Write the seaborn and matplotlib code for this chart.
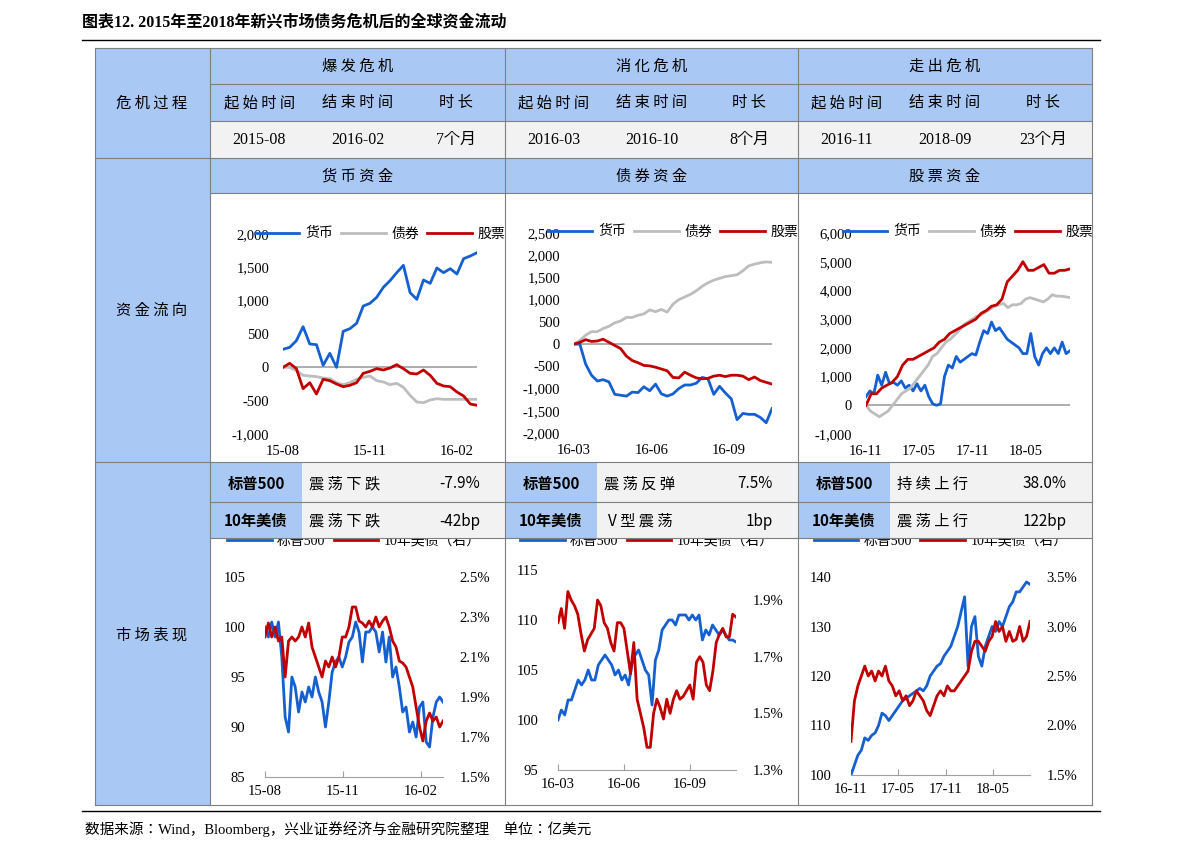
import numpy as np
import pandas as pd
import matplotlib.pyplot as plt
from matplotlib.patches import Rectangle
from matplotlib.lines import Line2D
import seaborn as sns

W, H = 1191, 856
CJK = ['Noto Sans CJK JP', 'Noto Sans CJK SC', 'DejaVu Sans']
SERIF = ['Liberation Serif', 'Noto Sans CJK JP', 'Noto Sans CJK SC']
BLUE, GRAY, RED = '#1560d0', '#bdbdbd', '#c00000'
HEAD = '#a9c8f3'
LIGHT = '#f2f2f2'

# ---- fund flow data (亿美元, cumulative) ----
f1_money = [270, 300, 400, 610, 350, 340, 30, 210, 0, 540, 580, 660, 920, 960, 1050,
            1200, 1300, 1420, 1530, 1120, 1020, 1310, 1260, 1490, 1420, 1480, 1400, 1630, 1670, 1720]
f1_bond = [0, 0, -50, -120, -130, -140, -160, -170, -230, -260, -230, -180, -150, -130, -200,
           -220, -260, -240, -300, -420, -520, -530, -490, -470, -480, -480, -480, -480, -480, -480]
f1_stock = [0, 60, -20, -320, -230, -400, -180, -200, -250, -290, -270, -230, -90, -60, -20,
            -40, -10, 40, -20, -90, -100, -40, -120, -240, -280, -290, -370, -430, -550, -570]

f2_money = [0, 0, -450, -700, -830, -800, -850, -1130, -1150, -1170, -1080, -1090, -960, -1050, -900,
            -1120, -1170, -1120, -1000, -920, -920, -880, -750, -780, -1130, -950, -1100, -1230,
            -1700, -1560, -1580, -1580, -1650, -1770, -1450]
f2_bond = [0, 80, 200, 280, 280, 350, 400, 480, 520, 600, 600, 650, 680, 770, 730, 780, 720, 900,
           1000, 1060, 1120, 1200, 1300, 1380, 1440, 1480, 1520, 1540, 1560, 1650, 1760, 1800, 1830, 1850, 1840]
f2_stock = [0, 40, 100, 60, 70, 110, 40, -30, -100, -270, -370, -420, -480, -490, -520, -560, -600,
            -750, -760, -630, -700, -760, -780, -770, -720, -700, -730, -700, -700, -720, -800, -740,
            -820, -860, -900]

f3_money = [300, 500, 400, 1050, 700, 1150, 750, 800, 700, 850, 600, 700, 500, 750, 500, 700, 300, 50,
            0, 50, 1000, 1400, 1300, 1700, 1500, 1600, 1700, 1800, 1750, 2200, 2600, 2500, 2900, 2600,
            2700, 2500, 2300, 2200, 2100, 2000, 1800, 1800, 2500, 1700, 1400, 1800, 2000, 1800, 2000,
            1800, 2200, 1800, 1900]
f3_bond = [0, -200, -300, -400, -300, -200, 0, 200, 400, 500, 600, 800, 1000, 1200, 1400, 1700, 1800,
           2000, 2200, 2300, 2450, 2600, 2800, 2900, 3000, 3100, 3150, 3250, 3350, 3450, 3500, 3550,
           3400, 3500, 3500, 3550, 3700, 3750, 3700, 3650, 3600, 3700, 3850, 3800, 3800, 3780, 3750]
f3_stock = [0, 400, 400, 600, 700, 800, 1000, 1400, 1600, 1600, 1700, 1800, 1900, 2000, 2200, 2300,
            2500, 2600, 2700, 2800, 2900, 3000, 3200, 3300, 3450, 3500, 3700, 4300, 4500, 4700, 5000,
            4700, 4700, 4800, 4900, 4600, 4600, 4700, 4700, 4750]

# ---- market data: S&P500 (rebased) and 10Y UST yield (%) ----
m1_spx = [100, 99, 100.5, 99, 100.5, 97, 91, 89.5, 95, 94, 91.5, 93.5, 92.5, 94, 93, 95, 93.5, 92.5,
          90, 92.5, 95.5, 96.5, 97, 96, 97, 98.5, 99, 100.5, 99.5, 96.5, 99.5, 99.5, 100, 99.5, 97.5,
          99.5, 96.5, 99, 95, 96, 94, 91.5, 92, 89.5, 90.5, 89, 92, 92.5, 88.5, 88, 91, 92.5, 93, 92.5]
m1_ust = [2.2, 2.27, 2.2, 2.25, 2.18, 2.2, 2.0, 2.18, 2.2, 2.18, 2.2, 2.25, 2.2, 2.27, 2.15, 2.1, 2.05,
          2.0, 2.08, 2.05, 2.1, 2.05, 2.1, 2.2, 2.2, 2.25, 2.35, 2.35, 2.28, 2.27, 2.25, 2.28, 2.25, 2.3,
          2.25, 2.28, 2.3, 2.25, 2.18, 2.15, 2.08, 2.07, 2.05, 2.0, 1.95, 1.85, 1.75, 1.68, 1.78, 1.82,
          1.78, 1.8, 1.75, 1.78]

m2_spx = [100, 101, 100.5, 102, 102, 103, 104, 103.5, 104, 105, 104, 104, 105.5, 106, 106.5, 106, 105.5,
          104.5, 105, 104, 104.5, 103.5, 105.5, 106.5, 107, 106, 105, 104.5, 101.5, 106, 107, 109, 109.5,
          110, 110, 109.5, 110.5, 110.5, 110.5, 110, 110.5, 110, 110.5, 108, 109, 108.5, 109.5, 109,
          108.5, 109, 108.5, 108, 108, 107.8]
m2_ust = [1.82, 1.87, 1.8, 1.93, 1.9, 1.88, 1.85, 1.78, 1.72, 1.76, 1.78, 1.8, 1.9, 1.88, 1.82, 1.8, 1.75,
          1.72, 1.82, 1.82, 1.8, 1.72, 1.64, 1.75, 1.55, 1.5, 1.45, 1.38, 1.38, 1.5, 1.55, 1.52, 1.48,
          1.55, 1.5, 1.55, 1.58, 1.55, 1.56, 1.58, 1.6, 1.55, 1.68, 1.7, 1.68, 1.6, 1.58, 1.65, 1.75,
          1.78, 1.8, 1.77, 1.77, 1.85, 1.84]

m3_spx = [100, 102, 104, 105, 107.5, 107, 108, 108.5, 110, 112.5, 112, 111, 112, 113, 114, 115, 115.5,
          116, 116.5, 117, 117.5, 117, 118, 120, 121, 122, 122.5, 124, 125, 126, 128, 130, 133, 136, 122,
          130, 132, 124, 122, 126, 128, 130, 129, 131, 130, 132, 134, 135, 137, 137, 138, 139, 138.5]
m3_ust = [1.84, 2.25, 2.4, 2.5, 2.6, 2.5, 2.55, 2.45, 2.55, 2.5, 2.6, 2.45, 2.4, 2.3, 2.35, 2.25, 2.3,
          2.2, 2.25, 2.35, 2.3, 2.25, 2.15, 2.1, 2.2, 2.3, 2.35, 2.3, 2.4, 2.35, 2.35, 2.4, 2.45, 2.5,
          2.55, 2.75, 2.85, 2.85, 2.8, 2.75, 2.85, 2.9, 3.05, 2.95, 3.0, 2.85, 2.95, 2.85, 2.87, 3.0,
          2.85, 2.9, 3.05]

# ---- table text ----
phases = ['爆发危机', '消化危机', '走出危机']
sub_heads = ['起始时间', '结束时间', '时长']
phase_vals = [['2015-08', '2016-02', '7个月'], ['2016-03', '2016-10', '8个月'], ['2016-11', '2018-09', '23个月']]
fund_titles = ['货币资金', '债券资金', '股票资金']
spx_desc = [['震荡下跌', '-7.9%'], ['震荡反弹', '7.5%'], ['持续上行', '38.0%']]
ust_desc = [['震荡下跌', '-42bp'], ['V型震荡', '1bp'], ['震荡上行', '122bp']]

fig = plt.figure(figsize=(W / 100, H / 100), dpi=100)


def box(l, t, r, b):
    return [l / W, 1 - b / H, (r - l) / W, (b - t) / H]


def txt(x, y, s, size=11, ha='center', **kw):
    fig.text(x / W, 1 - y / H, s, ha=ha, va='center', fontsize=size,
             fontfamily=kw.pop('family', CJK), **kw)


def rect(l, t, r, b, color):
    fig.patches.append(Rectangle((l / W, 1 - b / H), (r - l) / W, (b - t) / H,
                                 transform=fig.transFigure, facecolor=color, edgecolor='none', zorder=0))


def hline(y, l, r, lw=0.8, color='#7f7f7f'):
    fig.add_artist(Line2D([l / W, r / W], [1 - y / H, 1 - y / H], color=color, lw=lw))


def vline(x, t, b, lw=0.8, color='#7f7f7f'):
    fig.add_artist(Line2D([x / W, x / W], [1 - t / H, 1 - b / H], color=color, lw=lw))


# title
txt(82, 22, '图表12. 2015年至2018年新兴市场债务危机后的全球资金流动', size=11.5, ha='left',
    weight='bold', family=SERIF)
hline(40, 82, 1100, lw=1.0, color='black')

cols = [(210, 505), (505, 798), (798, 1092)]
# backgrounds
rect(95, 48, 210, 805, HEAD)
for l, r in cols:
    rect(l, 48, r, 121, HEAD)
    rect(l, 121, r, 158, LIGHT)
    rect(l, 158, r, 193, HEAD)
    rect(l, 462, r, 538, LIGHT)
    rect(l, 462, l + 92, 538, HEAD)

for y in [48, 84, 121, 158, 193, 462, 502, 538, 805]:
    hline(y, 210, 1092)
for y in [48, 158, 462, 805]:
    hline(y, 95, 210)
hline(811, 82, 1100, lw=1.0, color='black')
for x in [95, 210, 505, 798, 1092]:
    vline(x, 48, 805)

txt(152, 103, '危 机 过 程')
txt(152, 310, '资 金 流 向')
txt(152, 635, '市 场 表 现')

for i, (l, r) in enumerate(cols):
    cx = (l + r) / 2
    txt(cx, 66, ' '.join(phases[i]))
    txt(cx, 176, ' '.join(fund_titles[i]))
    w = (r - l) / 3
    for j in range(3):
        sx = l + w * (j + 0.5)
        txt(sx, 103, ' '.join(sub_heads[j]))
        txt(sx, 140, phase_vals[i][j], size=11.5, family=SERIF)
    txt(l + 46, 484, '标普500', weight='bold')
    txt(l + 46, 521, '10年美债', weight='bold')
    txt(l + 135, 484, ' '.join(spx_desc[i][0]))
    txt(l + 135, 521, ' '.join(ust_desc[i][0]))
    txt(r - 25, 484, spx_desc[i][1], ha='right')
    txt(r - 25, 521, ust_desc[i][1], ha='right')

txt(85, 829, '数据来源：Wind，Bloomberg，兴业证券经济与金融研究院整理    单位：亿美元', size=10.5,
    ha='left', family=SERIF)


def style_ax(ax, ylim, yticks, fmt, xticks, xlabels):
    ax.set_ylim(*ylim)
    ax.set_yticks(yticks)
    ax.set_yticklabels([fmt(v) for v in yticks], fontfamily=SERIF, fontsize=10.5)
    ax.set_xticks(xticks)
    ax.set_xticklabels(xlabels, fontfamily=SERIF, fontsize=10.5)
    ax.set_xlabel('')
    ax.set_ylabel('')
    for s in ax.spines.values():
        s.set_visible(False)
    ax.tick_params(length=0, pad=4)
    ax.patch.set_alpha(0)


def legend(ax, names, colors, y):
    handles = [Line2D([], [], color=c, lw=2) for c in colors]
    ax.legend(handles, names, loc='lower center', bbox_to_anchor=(0.5, y), ncol=len(names),
              frameon=False, prop={'family': SERIF, 'size': 10}, handlelength=3.2,
              columnspacing=0.6, handletextpad=0.4)


fund_panels = [
    ((283, 234, 477, 434), '2015-08-01', '2016-02-22', (f1_money, f1_bond, f1_stock),
     (-1000, 2000), [-1000, -500, 0, 500, 1000, 1500, 2000],
     ['2015-08-01', '2015-11-01', '2016-02-01'], ['15-08', '15-11', '16-02']),
    ((574, 233, 772, 433), '2016-03-01', '2016-10-23', (f2_money, f2_bond, f2_stock),
     (-2000, 2500), [-2000, -1500, -1000, -500, 0, 500, 1000, 1500, 2000, 2500],
     ['2016-03-01', '2016-06-01', '2016-09-01'], ['16-03', '16-06', '16-09']),
    ((866, 233, 1070, 434), '2016-11-01', '2018-09-28', (f3_money, f3_bond, f3_stock),
     (-1000, 6000), [-1000, 0, 1000, 2000, 3000, 4000, 5000, 6000],
     ['2016-11-01', '2017-05-01', '2017-11-01', '2018-05-01'], ['16-11', '17-05', '17-11', '18-05']),
]

for (bx, start, end, series, ylim, yt, xt, xl) in fund_panels:
    ax = fig.add_axes(box(*bx))
    for vals, c in zip(series, [BLUE, GRAY, RED]):
        d = pd.date_range(start, end, periods=len(vals))
        sns.lineplot(x=d, y=vals, color=c, lw=2, ax=ax)
    ax.set_xlim(pd.Timestamp(start), pd.Timestamp(end))
    ax.axhline(0, color='#a0a0a0', lw=1.2, zorder=0)
    style_ax(ax, ylim, yt, lambda v: f'{v:,}', pd.to_datetime(xt), xl)
    ax.tick_params(axis='x', pad=8)
    ax.tick_params(axis='y', pad=10)
    legend(ax, ['货币', '债券', '股票'], [BLUE, GRAY, RED], (208 - 4) and (bx[1] - 215) / (bx[3] - bx[1]) * -1 + 1.0 + 0.0)

market_panels = [
    ((265, 577, 443, 777), '2015-08-01', '2016-02-27', m1_spx, m1_ust,
     (85, 105), [85, 90, 95, 100, 105], (1.5, 2.5), [1.5, 1.7, 1.9, 2.1, 2.3, 2.5],
     ['2015-08-01', '2015-11-01', '2016-02-01'], ['15-08', '15-11', '16-02']),
    ((558, 570, 736, 770), '2016-03-01', '2016-11-04', m2_spx, m2_ust,
     (95, 115), [95, 100, 105, 110, 115], (1.3, 2.006), [1.3, 1.5, 1.7, 1.9],
     ['2016-03-01', '2016-06-01', '2016-09-01'], ['16-03', '16-06', '16-09']),
    ((851, 577, 1030, 775), '2016-11-01', '2018-09-21', m3_spx, m3_ust,
     (100, 140), [100, 110, 120, 130, 140], (1.5, 3.5), [1.5, 2.0, 2.5, 3.0, 3.5],
     ['2016-11-01', '2017-05-01', '2017-11-01', '2018-05-01'], ['16-11', '17-05', '17-11', '18-05']),
]

for (bx, start, end, spx, ust, yl, yt, yr, ytr, xt, xl) in market_panels:
    ax = fig.add_axes(box(*bx))
    ax2 = ax.twinx()
    d1 = pd.date_range(start, end, periods=len(spx))
    d2 = pd.date_range(start, end, periods=len(ust))
    sns.lineplot(x=d1, y=spx, color=BLUE, lw=2, ax=ax)
    sns.lineplot(x=d2, y=ust, color=RED, lw=2, ax=ax2)
    ax.set_xlim(pd.Timestamp(start), pd.Timestamp(end))
    style_ax(ax, yl, yt, lambda v: f'{v}', pd.to_datetime(xt), xl)
    style_ax(ax2, yr, ytr, lambda v: f'{v:.1f}%', pd.to_datetime(xt), xl)
    ax2.tick_params(axis='y', pad=12)
    ax.spines['bottom'].set_visible(True)
    ax.spines['bottom'].set_color('#a0a0a0')
    ax.tick_params(axis='x', direction='in', length=4, color='#a0a0a0', pad=6)
    ax.tick_params(axis='y', pad=14)
    # legend sits at y ~ 551px regardless of the axes top
    legend(ax, ['标普500', '10年美债（右）'], [BLUE, RED], 1.0 + (bx[1] - 560) / (bx[3] - bx[1]))

fig.savefig('out.png', dpi=100)
